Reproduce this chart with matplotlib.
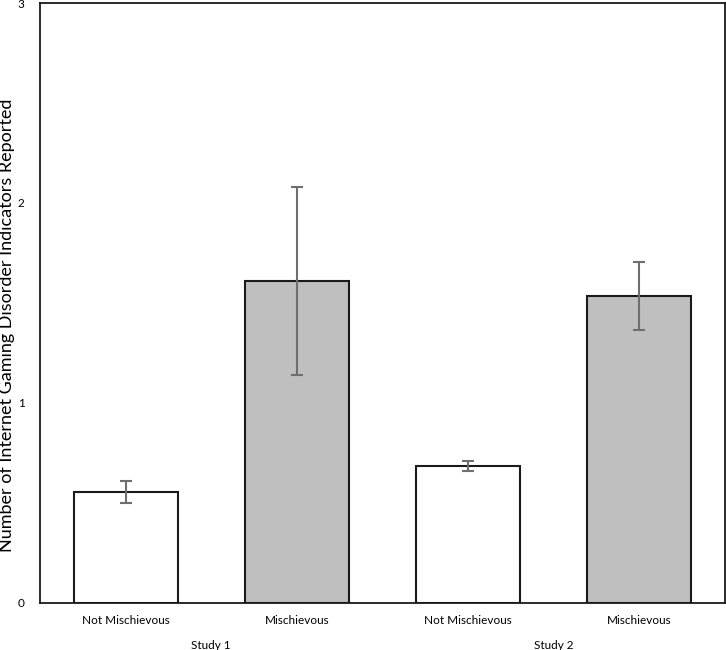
import numpy as np
import matplotlib.pyplot as plt

groups = ["Not Mischievous", "Mischievous", "Not Mischievous", "Mischievous"]
studies = ["Study 1", "Study 2"]
means = [0.552, 1.61, 0.685, 1.532]
errs = [0.054, 0.47, 0.025, 0.17]
colors = ["white", "#bfbfbf", "white", "#bfbfbf"]

plt.rcParams['font.family'] = ['Lato', 'DejaVu Sans']

fig = plt.figure(figsize=(7.26, 6.5), dpi=100)
ax = fig.add_axes([40/726, 47.5/650, 685/726, 599.5/650])

x = np.arange(len(means))
ax.bar(x, means, width=0.607, color=colors, edgecolor="#1a1a1a", linewidth=1.5,
       yerr=errs, error_kw=dict(ecolor="#6e6e6e", elinewidth=1.5, capsize=4, capthick=1.5))

ax.set_xlim(-0.5, 3.5)
ax.set_ylim(0, 3)
ax.set_yticks([0, 1, 2, 3])
ax.set_xticks(x)
ax.set_xticklabels(groups, fontsize=8.5)
ax.tick_params(axis="both", length=0, labelsize=8.5)
ax.tick_params(axis="x", pad=9)
ax.tick_params(axis="y", pad=11)
for s in ax.spines.values():
    s.set_linewidth(1.3)
    s.set_color("#1a1a1a")

for i, st in enumerate(studies):
    ax.text(2*i + 0.5, -0.215, st, ha="center", va="center", fontsize=8.5,
            transform=ax.transData)

# y label placed by hand, the tick pad pushes it off the figure otherwise
fig.text(7/726, 1 - 325/650, "Number of Internet Gaming Disorder Indicators Reported",
         rotation=90, ha="center", va="center", fontsize=13)

fig.savefig("out.png", dpi=100)
